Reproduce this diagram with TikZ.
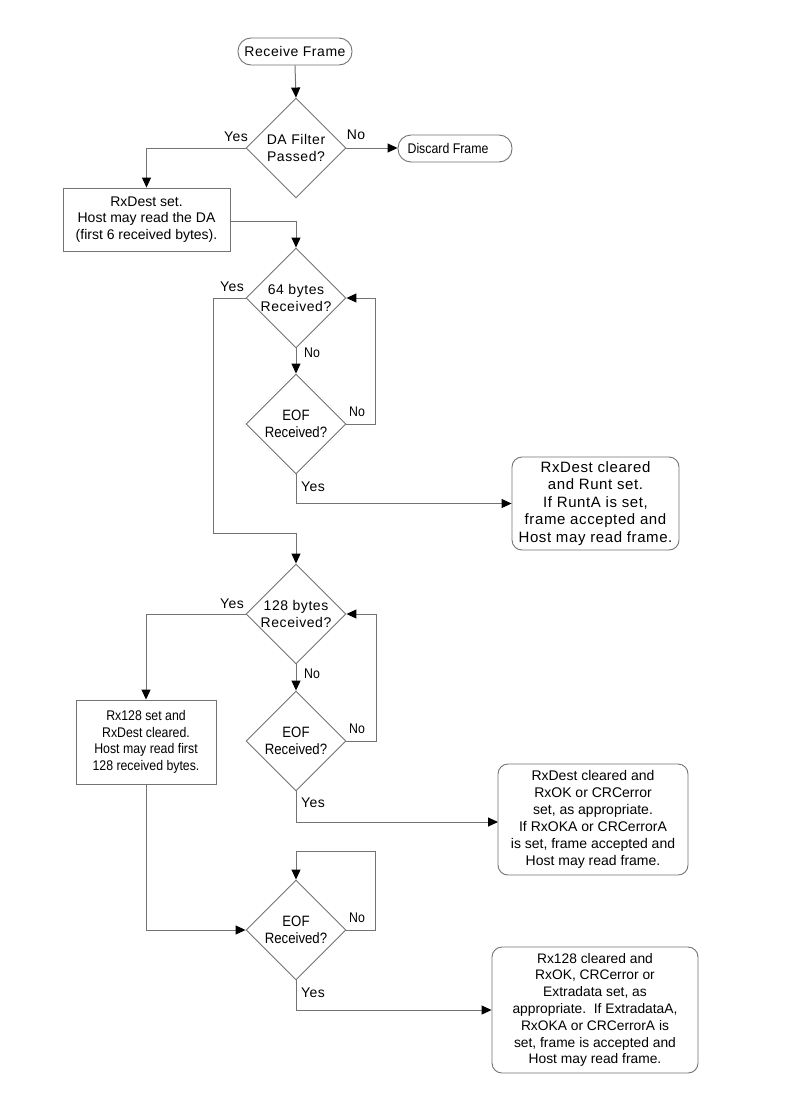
\documentclass[tikz,border=0pt]{standalone}
\usepackage{fontspec}
\setmainfont{Liberation Sans}
\newfontfamily\spaced{Liberation Sans}[LetterSpace=4]
\newfontfamily\narrow{Liberation Sans}[FakeStretch=0.88]
\usetikzlibrary{shapes.geometric,arrows.meta}
\begin{document}
\begin{tikzpicture}[x=1pt,y=-1pt,
  line/.style={draw=black!55, line width=1pt},
  arr/.style={line, -{Triangle[length=10pt,width=9pt,fill=black,color=black]}},
  txt/.style={font=\fontsize{14}{16.5}\selectfont, align=center, text=black},
  sp/.style={font=\fontsize{14}{16.5}\selectfont\spaced},
  nar/.style={font=\fontsize{14}{16.5}\selectfont\narrow},
  term/.style={txt, draw=black!55, line width=0.9pt, rounded corners=13pt, minimum width=114pt, minimum height=27pt, inner sep=0pt},
  dec/.style={txt, diamond, draw=black!55, line width=0.9pt, minimum width=100pt, minimum height=100pt, inner sep=0pt},
  eof/.style={dec, font=\fontsize{15}{17}\selectfont\narrow},
  proc/.style={txt, draw=black!55, line width=0.9pt, inner sep=0pt},
  rproc/.style={proc, rounded corners=10pt},
  lab/.style={text=black, inner sep=1pt}]
\useasboundingbox (0,0) rectangle (800,1100);
\fill[white] (0,0) rectangle (800,1100);

% nodes
\node[term, sp] (rf) at (295,51.5) {Receive Frame};
\node[dec, sp] (d1) at (296,148) {DA Filter\\Passed?};
\node[term, nar] (disc) at (455,148.5) {\hspace*{-14pt}Discard Frame};
\node[proc, minimum width=167pt, minimum height=63pt] (b1) at (146.5,219.5) {RxDest set.\\Host may read the DA\\(first 6 received bytes).};
\node[dec, sp] (d2) at (296,298) {64 bytes\\Received?};
\node[eof] (e1) at (296,424) {EOF\\Received?};
\node[rproc, minimum width=167pt, minimum height=93pt, font=\fontsize{15}{17.5}\selectfont\spaced] (runt) at (595.5,503.5) {RxDest cleared\\and Runt set.\\If RuntA is set,\\frame accepted and\\Host may read frame.};
\node[dec, sp] (d3) at (296,614) {128 bytes\\Received?};
\node[proc, nar, minimum width=140pt, minimum height=84pt] (b2) at (146,742) {Rx128 set and\\RxDest cleared.\\Host may read first\\128 received bytes.};
\node[eof] (e2) at (296,741) {EOF\\Received?};
\node[rproc, minimum width=190pt, minimum height=111pt, font=\fontsize{14}{17}\selectfont] (ok) at (593,819.5) {RxDest cleared and\\RxOK or CRCerror\\set, as appropriate.\\If RxOKA or CRCerrorA\\is set, frame accepted and\\Host may read frame.};
\node[eof] (e3) at (296,930) {EOF\\Received?};
\node[rproc, minimum width=206pt, minimum height=126pt, font=\fontsize{13.8}{16.8}\selectfont] (fin) at (595,1010) {Rx128 cleared and\\RxOK, CRCerror or\\Extradata set, as\\appropriate.\ \ If ExtradataA,\\RxOKA or CRCerrorA is\\set, frame is accepted and\\Host may read frame.};

% labels
\node[lab, sp] (y1) at (236,137) {Yes};
\node[lab, sp] (n1) at (356,135) {No};
\node[lab, sp] (y2) at (232,287) {Yes};
\node[lab, nar] (n2) at (312,353) {No};
\node[lab, nar] (n3) at (357,412) {No};
\node[lab, sp] (y3) at (313,487) {Yes};
\node[lab, sp] (y4) at (232,604) {Yes};
\node[lab, nar] (n4) at (312,674) {No};
\node[lab, nar] (n5) at (357,729) {No};
\node[lab, sp] (y5) at (313,803) {Yes};
\node[lab, nar] (n6) at (357,918) {No};
\node[lab, sp] (y6) at (313,993) {Yes};

% coordinates
\coordinate (c1) at (296,221);
\coordinate (c2) at (213,533);
\coordinate (c3) at (296,533);
\coordinate (c4) at (375,851);
\coordinate (c5) at (498,822);

% connectors
\draw[arr] (rf.south) -- (d1.north);
\draw[arr] (d1.east) -- (d1.east -| disc.west);
\draw[arr] (d1.west) -| (b1.north);
\draw[arr] (b1.east |- c1) -| (d2.north);
\draw[arr] (d2.south) -- (e1.north);
\draw[arr] (e1.east) -- ++(29,0) |- (d2.east);
\draw[arr] (e1.south) |- (runt.west);
\draw[line] (d2.west) -| (c2) -- (c3);
\draw[arr] (c3) -- (d3.north);
\draw[arr] (d3.west) -| (b2.north);
\draw[arr] (d3.south) -- (e2.north);
\draw[arr] (e2.east) -- ++(30,0) |- (d3.east);
\draw[arr] (e2.south) |- (c5);
\draw[arr] (b2.south) |- (e3.west);
\draw[arr] (e3.east) -| (c4) -| (e3.north);
\draw[arr] (e3.south) |- (fin.west);
\end{tikzpicture}
\end{document}
